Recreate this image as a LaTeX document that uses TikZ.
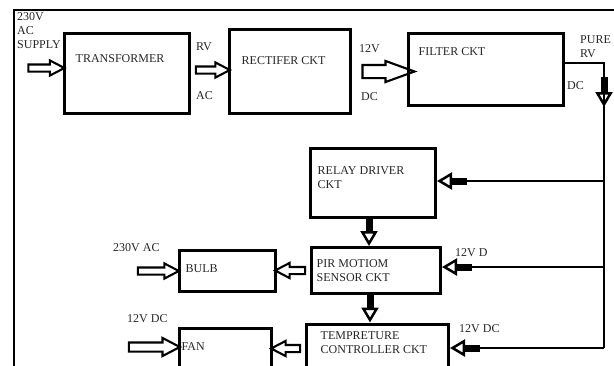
\documentclass[tikz,border=0pt]{standalone}
\usepackage{fontspec}
\setmainfont{Liberation Serif}
\usetikzlibrary{positioning,arrows.meta,calc,shapes.arrows}

\begin{document}
\begin{tikzpicture}[
  x=1pt,y=-1pt,
  font=\fontsize{12}{14}\selectfont,>=Latex,
  blk/.style={draw,line width=3pt,inner sep=0pt},
  txt/.style={anchor=west,inner sep=0pt,align=left,text=black!85},
  harr/.style={single arrow,draw,line width=2.1pt,inner sep=2.5pt,
               single arrow head extend=4pt,single arrow tip angle=55,
               sloped,allow upside down,minimum height=#1},
  bigarr/.style={harr=#1,inner sep=5.5pt,single arrow tip angle=40},
  wire/.style={line width=2.5pt},
  sarr/.style={line width=2.5pt,
               -{Rectangle[length=15pt,width=7pt]Triangle[open,length=15pt,width=17pt,line width=2.5pt]}},
]
  \useasboundingbox (0,0) rectangle (614,365);
  \clip (0,0) rectangle (614,365);

  % outer frame
  \draw[line width=2pt] (14,370) |- (620,10);

  % power chain
  \node[blk,minimum width=125,minimum height=80] (trans) at (127,73) {};
  \node[blk,minimum width=121,minimum height=84] (rect)  at (290,71.5) {};
  \node[blk,minimum width=155,minimum height=72] (filt)  at (486,69.5) {};
  \node[txt] (ttrans) at ($(trans.north west)+(12.5,27.5)$) {TRANSFORMER};
  \node[txt] (trect)  at ($(rect.north west)+(13.5,32.5)$)  {RECTIFER CKT};
  \node[txt] (tfilt)  at ($(filt.north west)+(11.5,19.5)$)  {FILTER CKT};

  % control blocks
  \node[blk,minimum width=125,minimum height=69] (relay) at (373,183) {};
  \node[blk,minimum width=129,minimum height=46] (pir)   at (376,270.5) {};
  \node[blk,minimum width=96,minimum height=41]  (bulb)  at (227.5,271) {};
  \node[blk,minimum width=142,minimum height=60,anchor=north] (temp) at (377.5,322.5) {};
  \node[blk,minimum width=92,minimum height=60,anchor=north]  (fan)  at (225.5,326.5) {};
  \node[txt] (trelay) at ($(relay.north west)+(8.5,31)$)  {RELAY DRIVER\\CKT};
  \node[txt] (tpir)   at ($(pir.north west)+(6.5,24.5)$)  {PIR MOTIOM\\SENSOR CKT};
  \node[txt] (tbulb)  at ($(bulb.north west)+(7.5,19.5)$) {BULB};
  \node[txt] (ttemp)  at ($(temp.north west)+(15.5,20)$)  {TEMPRETURE\\CONTROLLER CKT};
  \node[txt] (tfan)   at ($(fan.north west)+(3.5,20.5)$)  {FAN};

  % hollow arrows
  \coordinate (ac)  at (23,68);
  \coordinate (bin) at (132,271);
  \coordinate (fin) at (122,347);
  \coordinate (tro) at ($(trans.east)+(0,-3)$);
  \coordinate (tmo) at ($(temp.west)+(0,-5.5)$);
  \path (ac) -- node[harr=36] (a1) {} (ac -| trans.west);
  \path (tro) -- node[harr=34] (a2) {} (tro -| rect.west);
  \path (rect.east) -- node[bigarr=52] (a3) {} (rect.east -| filt.west);
  \path (pir.west) -- node[harr=30] (a4) {} (pir.west -| bulb.east);
  \path (bin) -- node[harr=41] (a5) {} (bin -| bulb.west);
  \path (tmo) -- node[harr=29] (a6) {} (tmo -| fan.east);
  \path (fin) -- node[harr=51,inner sep=3.5pt,single arrow head extend=4.5pt] (a7) {} (fin -| fan.west);

  % supply wire down the right side
  \coordinate (fo) at ($(filt.east)+(0,-6.5)$);
  \coordinate (c1) at (604,63);
  \coordinate (t1) at (604,181);
  \coordinate (t2) at (604,267);
  \coordinate (c2) at (604,348);
  \coordinate (d0) at (604,77);
  \coordinate (d1) at (604,107);
  \draw[wire] (fo) -- (c1) -- (c2);
  \draw[sarr] (d0) -- (d1);
  \draw[sarr] (t1) -- (t1 -| relay.east);
  \draw[sarr] (t2) -- (t2 -| pir.east);
  \draw[sarr] (c2) -- (c2 -| temp.east);

  % between control blocks
  \coordinate (rd) at ($(relay.south)+(-4,0)$);
  \coordinate (pd) at ($(pir.south)+(-6,0)$);
  \draw[sarr] (rd) -- (rd |- pir.north);
  \draw[sarr] (pd) -- (pd |- temp.north);

  % labels
  \node[txt] (lsup)  at (17,31)    {230V\\AC\\SUPPLY};
  \node[txt] (lrv)   at (196,46.5) {RV};
  \node[txt] (lac)   at (196,96)   {AC};
  \node[txt] (l12v)  at (359,48.5) {12V};
  \node[txt] (ldc)   at (361,97)   {DC};
  \node[txt] (lpure) at (580,46.5) {PURE\\RV};
  \node[txt] (ldc2)  at (567,85.5) {DC};
  \node[txt] (lpir)  at (455,253)  {12V D};
  \node[txt] (lbulb) at (113,248)  {230V AC};
  \node[txt] (lfan)  at (127,319)  {12V DC};
  \node[txt] (ltemp) at (459,329)  {12V DC};
\end{tikzpicture}
\end{document}
